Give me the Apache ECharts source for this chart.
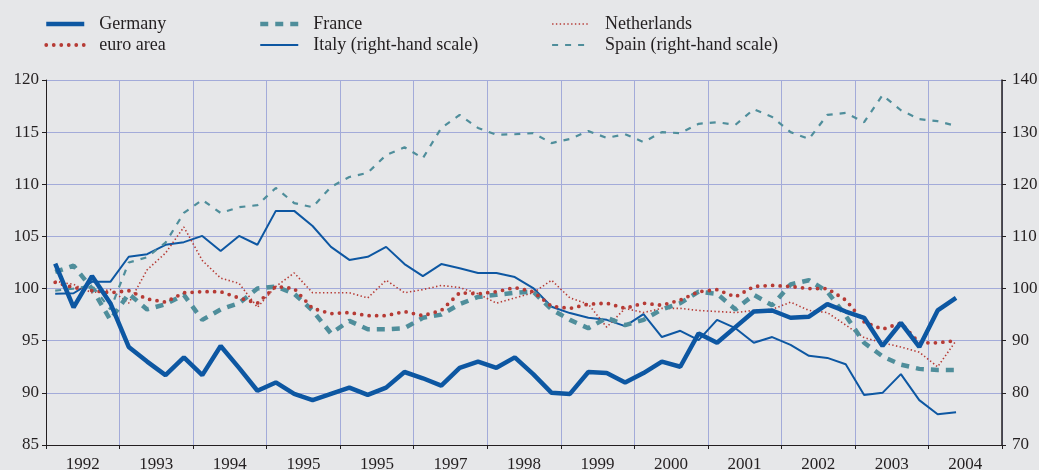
<!DOCTYPE html>
<html>
<head>
<meta charset="utf-8">
<script src="https://cdn.jsdelivr.net/npm/echarts@6/dist/echarts.min.js"></script>
<style>
  html, body { margin: 0; padding: 0; background: #e6e7e9; }
  #chart { width: 1039px; height: 470px; }
</style>
</head>
<body>
<div id="chart"></div>
<script>
// year labels as printed (the second 1995 is in the original)
var yearLabels = ['1992', '1993', '1994', '1995', '1995', '1997', '1998', '1999', '2000', '2001', '2002', '2003', '2004'];

// quarters 1992Q1 .. 2004Q4, data runs to 2004Q2
var quarters = [];
for (var y = 1992; y <= 2004; y++) {
    for (var q = 1; q <= 4; q++) quarters.push(y + 'Q' + q);
}

// left-hand scale
var germany = [102.4, 98.2, 101.2, 98.6, 94.4, 93.0, 91.7, 93.4, 91.7, 94.5, 92.4, 90.2,
    91.0, 89.9, 89.3, 89.9, 90.5, 89.8, 90.5, 92.0, 91.4, 90.7, 92.4, 93.0,
    92.4, 93.4, 91.8, 90.0, 89.9, 92.0, 91.9, 91.0, 91.9, 93.0, 92.5, 95.7,
    94.8, 96.3, 97.8, 97.9, 97.2, 97.3, 98.5, 97.8, 97.2, 94.5, 96.7, 94.4, 97.9, 99.1];

var euroArea = [100.6, 100.1, 99.8, 99.6, 99.8, 99.0, 98.7, 99.6, 99.7, 99.7, 99.1, 98.6,
    100.2, 100.0, 98.1, 97.6, 97.7, 97.4, 97.4, 97.8, 97.4, 97.9, 99.6, 99.5,
    99.7, 100.1, 99.7, 98.3, 98.1, 98.5, 98.6, 98.1, 98.6, 98.4, 98.9, 99.7,
    99.9, 99.2, 100.2, 100.3, 100.2, 100.0, 100.0, 98.9, 96.8, 96.1, 96.7, 94.8, 94.8, 95.0];

var france = [101.6, 102.2, 100.0, 97.0, 99.5, 98.0, 98.5, 99.4, 97.0, 98.0, 98.6, 100.0,
    100.2, 99.5, 97.9, 95.7, 96.9, 96.1, 96.1, 96.2, 97.2, 97.5, 98.5, 99.2,
    99.4, 99.6, 99.7, 98.0, 97.0, 96.2, 97.2, 96.5, 97.0, 98.0, 98.6, 99.7,
    99.5, 98.0, 99.4, 98.4, 100.4, 100.8, 99.7, 97.4, 94.8, 93.5, 92.7, 92.3, 92.2, 92.2];

var netherlands = [100.7, 100.4, 99.6, 99.9, 98.6, 101.8, 103.4, 105.9, 102.7, 101.0, 100.5, 98.2,
    100.2, 101.5, 99.6, 99.6, 99.6, 99.1, 100.8, 99.6, 99.9, 100.3, 100.1, 99.5,
    98.6, 99.1, 99.6, 100.8, 99.1, 98.5, 96.3, 98.1, 97.7, 98.1, 98.1, 97.9,
    97.8, 97.7, 97.9, 98.0, 98.7, 97.9, 97.7, 96.5, 95.3, 94.8, 94.4, 93.9, 92.5, 95.0];

// right-hand scale
var italy = [99.0, 99.1, 101.3, 101.3, 106.1, 106.6, 108.4, 108.9, 110.1, 107.2, 110.1, 108.4,
    114.9, 114.9, 112.0, 108.0, 105.5, 106.1, 108.0, 104.7, 102.4, 104.7, 103.9, 103.0,
    103.0, 102.2, 100.1, 96.5, 95.3, 94.4, 94.0, 92.8, 95.1, 90.7, 91.9, 90.1,
    94.0, 92.4, 89.6, 90.7, 89.2, 87.1, 86.7, 85.5, 79.6, 80.0, 83.6, 78.6, 75.9, 76.3];

var spain = [99.6, 100.0, 100.6, 96.0, 105.0, 106.0, 108.8, 114.5, 117.0, 114.5, 115.6, 116.0,
    119.3, 116.4, 115.6, 119.5, 121.4, 122.2, 125.6, 127.1, 125.0, 130.8, 133.3, 130.8,
    129.5, 129.6, 129.8, 127.9, 128.7, 130.2, 128.9, 129.6, 128.1, 130.0, 129.8, 131.6,
    131.9, 131.4, 134.4, 132.9, 130.0, 128.7, 133.3, 133.7, 131.9, 137.1, 134.2, 132.5, 132.1, 131.2];

var BLUE = '#0d57a2';
var TEAL = '#4f8e9b';
var RED = '#b63b35';
var GRIDCOL = '#a3abd9';
var TXT = '#231f20';
var FONT = 'Liberation Serif';

// line looks, shared by the series and their legend icons
var styles = {
    'Germany': { color: BLUE, width: 4.5, type: 'solid' },
    'euro area': { color: RED, width: 3.8, type: [0, 7.5], cap: 'round' },
    'France': { color: TEAL, width: 4.5, type: [8, 7] },
    'Italy (right-hand scale)': { color: BLUE, width: 2, type: 'solid' },
    'Netherlands': { color: RED, width: 1.6, type: [1.4, 2.4] },
    'Spain (right-hand scale)': { color: TEAL, width: 2.2, type: [6, 7] }
};

var myChart = echarts.init(document.getElementById('chart'));

// one legend block per column, two rows each
function legendBox(left, names) {
    return {
        orient: 'vertical',
        left: left,
        top: 10,
        itemWidth: 38,
        itemHeight: 14,
        itemGap: 3,
        selectedMode: false,
        data: names.map(function (n) {
            return { name: n, lineStyle: styles[n] };
        }),
        itemStyle: { color: 'transparent', borderWidth: 0, opacity: 0 },
        textStyle: {
            fontFamily: FONT,
            fontSize: 18,
            color: TXT,
            lineHeight: 18,
            padding: [0, 0, 0, 10]
        }
    };
}

function lineSeries(name, data, axis, z) {
    return {
        name: name, type: 'line', xAxisIndex: 1, yAxisIndex: axis,
        data: data, symbol: 'none', z: z,
        lineStyle: styles[name], itemStyle: { color: styles[name].color }
    };
}

var option = {
    backgroundColor: '#e6e7e9',
    animation: false,
    legend: [
        legendBox(39, ['Germany', 'euro area']),
        legendBox(253, ['France', 'Italy (right-hand scale)']),
        legendBox(546, ['Netherlands', 'Spain (right-hand scale)'])
    ],
    grid: {
        left: 46,
        right: 37,
        top: 80,
        bottom: 25,
        containLabel: false,
        outerBoundsMode: 'none'
    },
    xAxis: [
        {
            type: 'category',
            data: yearLabels,
            boundaryGap: true,
            axisLine: { lineStyle: { color: TXT, width: 1 } },
            axisTick: { show: true, interval: 0, length: 4, lineStyle: { color: TXT } },
            axisLabel: { interval: 0, margin: 11, fontFamily: FONT, fontSize: 17, color: TXT },
            splitLine: { show: true, interval: 0, lineStyle: { color: GRIDCOL, width: 1 } }
        },
        {
            type: 'category',
            data: quarters,
            boundaryGap: true,
            show: false
        }
    ],
    yAxis: [
        {
            type: 'value',
            min: 85,
            max: 120,
            interval: 5,
            axisLine: { show: true, lineStyle: { color: TXT, width: 1 } },
            axisTick: { show: true, length: 4, lineStyle: { color: TXT } },
            axisLabel: { margin: 7, fontFamily: FONT, fontSize: 17, color: TXT },
            splitLine: { show: true, lineStyle: { color: GRIDCOL, width: 1 } }
        },
        {
            type: 'value',
            min: 70,
            max: 140,
            interval: 10,
            position: 'right',
            axisLine: { show: true, lineStyle: { color: TXT, width: 1.5 } },
            axisTick: { show: true, length: 4, lineStyle: { color: TXT } },
            axisLabel: { margin: 10, fontFamily: FONT, fontSize: 17, color: TXT },
            splitLine: { show: false }
        }
    ],
    series: [
        lineSeries('Germany', germany, 0, 6),
        lineSeries('euro area', euroArea, 0, 5),
        lineSeries('France', france, 0, 4),
        lineSeries('Italy (right-hand scale)', italy, 1, 3),
        lineSeries('Netherlands', netherlands, 0, 3),
        lineSeries('Spain (right-hand scale)', spain, 1, 3)
    ]
};

myChart.setOption(option);
</script>
</body>
</html>
